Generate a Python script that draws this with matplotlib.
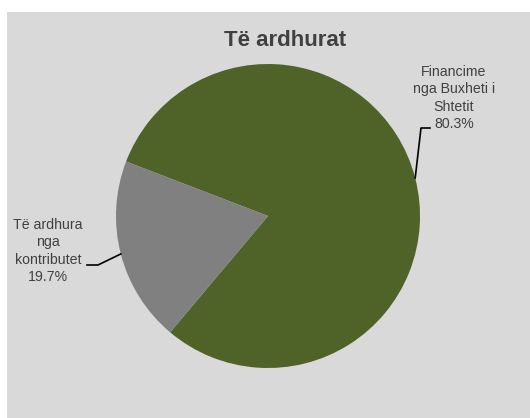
import numpy as np
import matplotlib
matplotlib.use("Agg")
import matplotlib.pyplot as plt
from matplotlib.patches import Rectangle

# dati
titulli = "Të ardhurat"
kategorite = ["Financime\nnga Buxheti i\nShtetit", "Të ardhura\nnga\nkontributet"]
vlerat = [80.3, 19.7]
ngjyrat = ["#4f6228", "#808080"]

W, H = 530, 418
fig = plt.figure(figsize=(W / 100, H / 100), dpi=100, facecolor="white")
ax = fig.add_axes([0, 0, 1, 1])

# sfondi gri i grafikut
ax.add_patch(Rectangle((7, 0), W - 7, H - 12, facecolor="#d9d9d9", edgecolor="none", zorder=0))

qendra = (268, 202)
rrezja = 152
wedges, _ = ax.pie(vlerat, colors=ngjyrat, startangle=159, counterclock=False,
                   center=qendra, radius=rrezja, frame=True,
                   wedgeprops=dict(linewidth=0))
ax.set_xlim(0, W)
ax.set_ylim(0, H)
ax.set_aspect("equal")
ax.axis("off")

ax.text(285, H - 40, titulli, ha="center", va="center", fontsize=16,
        fontweight="bold", color="#404040", family="Liberation Sans")

# etiketat me vija udhezuese
pozicionet = [(454, H - 98), (48, H - 251)]
berrylat = [(421, H - 128, 430), (98, H - 265, 87)]
for w, kat, v, (tx, ty), (ex, ey, hx) in zip(wedges, kategorite, vlerat, pozicionet, berrylat):
    kendi = np.deg2rad((w.theta1 + w.theta2) / 2)
    px = qendra[0] + rrezja * np.cos(kendi)
    py = qendra[1] + rrezja * np.sin(kendi)
    ax.plot([px, ex, hx], [py, ey, ey], color="black", lw=1.2, zorder=3)
    ax.text(tx, ty, f"{kat}\n{v:.1f}%", ha="center", va="center", fontsize=10.2,
            color="#404040", family="Liberation Sans", linespacing=1.28)

fig.savefig("out.png", dpi=100, facecolor="white")
